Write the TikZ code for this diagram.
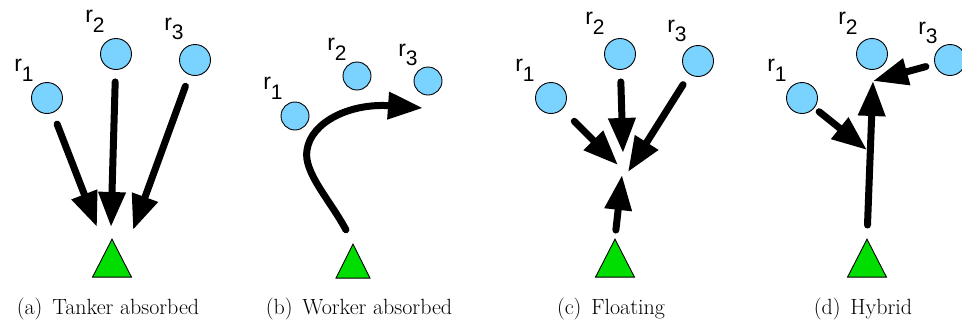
\documentclass[tikz,border=0pt]{standalone}
\usepackage{fontspec}
\newfontfamily\labfont{Liberation Sans}
\newfontfamily\capfont{Latin Modern Roman}
\usetikzlibrary{arrows.meta,shapes.geometric}

\definecolor{robotblue}{RGB}{122,211,255}
\definecolor{tankergreen}{RGB}{0,221,0}

% robot name with a lowered index, and the sub-caption under each panel
\newcommand{\rname}[1]{{\labfont\fontsize{23}{23}\selectfont r\raisebox{-0.42em}{\fontsize{21}{21}\selectfont #1}}}
\newcommand{\subcap}[2]{{\capfont\fontsize{22}{22}\selectfont (#1)\hspace{0.45em}#2}}

\tikzset{
  robot/.style={circle, draw, line width=0.9pt, fill=robotblue, minimum size=31pt, inner sep=0pt},
  tanker/.style={isosceles triangle, shape border rotate=90, isosceles triangle stretches,
    draw, line width=0.9pt, fill=tankergreen, minimum width=39pt, minimum height=38pt,
    inner sep=0pt, anchor=apex},
  push/.style={line width=7pt, line cap=round, -{Triangle[length=35pt,width=26pt]}, shorten <=12pt},
  rlab/.style={inner sep=0pt},
  subcaption/.style={anchor=base, inner sep=0pt},
}

\begin{document}
\begin{tikzpicture}[x=1pt, y=-1pt]
\useasboundingbox (0,0) rectangle (962,322);

% (a) tanker absorbed
\node[robot] (r1a) at (47,98) {};
\node[robot] (r2a) at (116,54) {};
\node[robot] (r3a) at (195,60) {};
\node[rlab] (n1a) at (24,70) {\rname{1}};
\node[rlab] (n2a) at (95,21) {\rname{2}};
\node[rlab] (n3a) at (174,29) {\rname{3}};
\node[tanker] (ta) at (112,238) {};
\coordinate (a1) at (97,227);
\coordinate (a2) at (111,227);
\coordinate (a3) at (133,230);
\draw[push] (r1a) -- (a1);
\draw[push] (r2a) -- (a2);
\draw[push] (r3a) -- (a3);
\node[subcaption] (capa) at (108,314) {\subcap{a}{Tanker absorbed}};

% (b) worker absorbed
\node[robot, minimum size=28pt] (r1b) at (295,116) {};
\node[robot, minimum size=28pt] (r2b) at (357,76) {};
\node[robot, minimum size=28pt] (r3b) at (428,81) {};
\node[rlab] (n1b) at (273,88) {\rname{1}};
\node[rlab] (n2b) at (337,49) {\rname{2}};
\node[rlab] (n3b) at (408,55) {\rname{3}};
\node[tanker, minimum width=34pt, minimum height=34pt] (tb) at (353,243) {};
\coordinate (b1) at (423,108);
\draw[push, shorten <=15pt] (tb.apex) .. controls (330,200) and (303,172) .. (307,150)
  .. controls (311,122) and (350,103) .. (b1);
\node[subcaption] (capb) at (359,314) {\subcap{b}{Worker absorbed}};

% (c) floating
\node[robot] (r1c) at (551,98) {};
\node[robot] (r2c) at (620,54) {};
\node[robot] (r3c) at (698,61) {};
\node[rlab] (n1c) at (525,70) {\rname{1}};
\node[rlab] (n2c) at (595,23) {\rname{2}};
\node[rlab] (n3c) at (677,31) {\rname{3}};
\node[tanker] (tc) at (615,238) {};
\coordinate (c1) at (618,165);
\coordinate (c2) at (623,153);
\coordinate (c3) at (628,172);
\coordinate (c4) at (622,175);
\draw[push, shorten <=17pt] (r1c) -- (c1);
\draw[push] (r2c) -- (c2);
\draw[push] (r3c) -- (c3);
\draw[push, shorten <=8pt] (tc.apex) -- (c4);
\node[subcaption] (capc) at (611,314) {\subcap{c}{Floating}};

% (d) hybrid
\node[robot] (r1d) at (802,98) {};
\node[robot] (r2d) at (872,54) {};
\node[robot] (r3d) at (950,60) {};
\node[rlab] (n1d) at (777,70) {\rname{1}};
\node[rlab] (n2d) at (848,23) {\rname{2}};
\node[rlab] (n3d) at (928,33) {\rname{3}};
\node[tanker] (td) at (867,238) {};
\coordinate (d1) at (867,150);
\coordinate (d2) at (873,81);
\draw[push, shorten <=6pt] (r1d) -- (d1);
\draw[push, shorten <=9pt] (r3d) -- (d2);
\draw[push, shorten <=13pt] (td.apex) -- (d2);
\node[subcaption] (capd) at (863,314) {\subcap{d}{Hybrid}};
\end{tikzpicture}
\end{document}
